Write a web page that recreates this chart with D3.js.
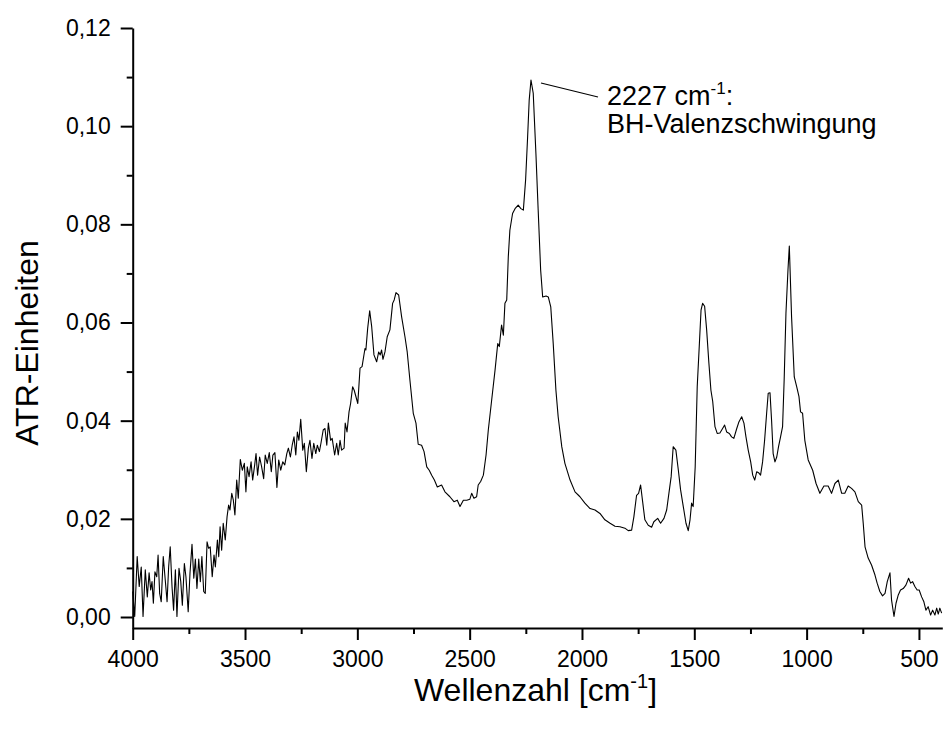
<!DOCTYPE html>
<html>
<head>
<meta charset="utf-8">
<script src="https://cdn.jsdelivr.net/npm/d3@7"></script>
<style>
  html, body { margin: 0; padding: 0; background: #fff; }
  svg { display: block; font-family: "Liberation Sans", Arial, sans-serif; }
</style>
</head>
<body>
<svg id="chart" width="943" height="731"></svg>
<script>
// ATR-IR spectrum: wavenumber (cm^-1) and absorbance in ATR units
const wavenumber = [4000,3991,3980,3971,3962,3954,3944,3935,3927,3920,
3914,3908,3901,3893,3887,3880,3873,3864,3855,3847,
3840,3833,3825,3818,3810,3803,3794,3786,3779,3770,
3763,3753,3745,3736,3728,3721,3714,3706,3699,3692,
3684,3677,3669,3662,3655,3646,3638,3632,3623,3617,
3611,3604,3597,3588,3580,3573,3567,3559,3552,3545,
3537,3530,3521,3512,3503,3496,3490,3482,3473,3466,
3457,3451,3444,3435,3426,3417,3410,3401,3392,3383,
3376,3367,3358,3350,3341,3332,3323,3314,3307,3298,
3290,3282,3274,3267,3260,3252,3243,3236,3227,3218,
3211,3202,3194,3185,3178,3169,3162,3152,3144,3136,
3129,3119,3112,3101,3092,3085,3077,3070,3059,3054,
3046,3037,3030,3021,3014,2998,2988,2979,2966,2962,
2954,2945,2936,2926,2914,2905,2898,2892,2886,2877,
2867,2855,2843,2836,2828,2816,2803,2788,2778,2766,
2751,2739,2729,2714,2703,2691,2680,2669,2657,2644,
2625,2610,2588,2570,2555,2543,2528,2513,2499,2491,
2481,2469,2462,2451,2439,2427,2417,2402,2387,2375,
2368,2358,2350,2343,2335,2328,2321,2309,2298,2284,
2272,2261,2251,2242,2235,2227,2217,2205,2195,2184,
2175,2160,2150,2139,2128,2116,2106,2090,2076,2053,
2031,2009,1987,1964,1942,1920,1898,1875,1853,1831,
1809,1794,1779,1769,1757,1748,1739,1730,1720,1705,
1690,1680,1663,1650,1635,1623,1611,1603,1594,1582,
1571,1561,1549,1537,1527,1519,1512,1505,1496,1487,
1478,1470,1463,1454,1445,1435,1426,1418,1408,1398,
1386,1374,1365,1356,1344,1334,1324,1311,1301,1289,
1279,1270,1260,1249,1240,1231,1222,1214,1205,1196,
1187,1178,1171,1163,1156,1149,1141,1133,1125,1116,
1107,1100,1092,1083,1077,1067,1055,1044,1034,1027,
1018,1008,993,973,958,941,923,904,889,874,
859,844,830,815,800,785,770,755,748,740,
726,711,696,686,674,662,651,641,629,622,
611,602,592,582,570,558,546,537,528,518,
508,499,488,478,469,459,448,439,429,421,
414,407,399];

const atrUnits = [0.0052,0.0001,0.0123,0.0062,0.0102,0.0001,0.0096,0.0041,0.0090,0.0055,
0.0072,0.0028,0.0092,0.0082,0.0126,0.0048,0.0031,0.0123,0.0075,0.0031,
0.0102,0.0143,0.0062,0.0014,0.0096,0.0001,0.0099,0.0072,0.0024,0.0109,
0.0082,0.0011,0.0089,0.0148,0.0079,0.0118,0.0058,0.0118,0.0072,0.0123,
0.0052,0.0048,0.0153,0.0140,0.0143,0.0082,0.0126,0.0102,0.0157,0.0123,
0.0184,0.0136,0.0191,0.0157,0.0204,0.0228,0.0218,0.0252,0.0238,0.0208,
0.0279,0.0242,0.0321,0.0299,0.0313,0.0255,0.0306,0.0286,0.0316,0.0279,
0.0310,0.0333,0.0289,0.0326,0.0306,0.0282,0.0330,0.0313,0.0335,0.0296,
0.0330,0.0335,0.0264,0.0320,0.0299,0.0316,0.0310,0.0333,0.0344,0.0326,
0.0350,0.0367,0.0330,0.0377,0.0360,0.0403,0.0340,0.0354,0.0296,0.0344,
0.0360,0.0323,0.0354,0.0333,0.0350,0.0337,0.0354,0.0381,0.0384,0.0350,
0.0395,0.0360,0.0364,0.0330,0.0354,0.0330,0.0360,0.0340,0.0344,0.0395,
0.0377,0.0418,0.0435,0.0469,0.0462,0.0435,0.0507,0.0510,0.0547,0.0544,
0.0588,0.0624,0.0591,0.0534,0.0520,0.0540,0.0534,0.0544,0.0525,0.0540,
0.0571,0.0585,0.0639,0.0646,0.0661,0.0656,0.0612,0.0571,0.0540,0.0483,
0.0415,0.0395,0.0352,0.0350,0.0337,0.0306,0.0299,0.0289,0.0279,0.0265,
0.0269,0.0255,0.0245,0.0235,0.0238,0.0225,0.0238,0.0238,0.0240,0.0252,
0.0242,0.0245,0.0269,0.0276,0.0289,0.0330,0.0381,0.0442,0.0503,0.0557,
0.0551,0.0595,0.0574,0.0639,0.0646,0.0734,0.0788,0.0822,0.0832,0.0839,
0.0832,0.0829,0.0890,0.0978,0.1053,0.1094,0.1067,0.0944,0.0829,0.0707,
0.0652,0.0654,0.0652,0.0632,0.0557,0.0462,0.0408,0.0347,0.0313,0.0279,
0.0255,0.0245,0.0232,0.0221,0.0218,0.0211,0.0198,0.0191,0.0185,0.0184,
0.0181,0.0176,0.0177,0.0204,0.0248,0.0252,0.0269,0.0235,0.0198,0.0187,
0.0183,0.0194,0.0201,0.0191,0.0201,0.0218,0.0259,0.0286,0.0347,0.0340,
0.0299,0.0259,0.0225,0.0191,0.0176,0.0198,0.0232,0.0225,0.0306,0.0469,
0.0551,0.0625,0.0639,0.0633,0.0585,0.0517,0.0462,0.0439,0.0388,0.0374,
0.0375,0.0384,0.0391,0.0377,0.0374,0.0367,0.0364,0.0384,0.0398,0.0408,
0.0395,0.0367,0.0340,0.0316,0.0289,0.0279,0.0296,0.0294,0.0289,0.0316,
0.0360,0.0415,0.0456,0.0457,0.0401,0.0333,0.0316,0.0326,0.0347,0.0367,
0.0388,0.0483,0.0619,0.0707,0.0756,0.0612,0.0489,0.0469,0.0449,0.0418,
0.0415,0.0360,0.0320,0.0299,0.0272,0.0252,0.0267,0.0267,0.0252,0.0272,
0.0279,0.0252,0.0252,0.0267,0.0262,0.0255,0.0235,0.0228,0.0191,0.0143,
0.0120,0.0106,0.0086,0.0069,0.0052,0.0043,0.0048,0.0072,0.0090,0.0035,
0.0001,0.0028,0.0045,0.0055,0.0058,0.0065,0.0079,0.0069,0.0072,0.0062,
0.0055,0.0055,0.0041,0.0031,0.0014,0.0021,0.0004,0.0014,0.0004,0.0018,
0.0006,0.0018,0.0008];

// Axis ticks
const xMajorTicks = [4000, 3500, 3000, 2500, 2000, 1500, 1000, 500];
const xMinorTicks = [3750, 3250, 2750, 2250, 1750, 1250, 750];
const yMajorTicks = [0, 0.02, 0.04, 0.06, 0.08, 0.10, 0.12];
const yMinorTicks = [0.01, 0.03, 0.05, 0.07, 0.09, 0.11];

// Annotated band
const bandWavenumber = 2227;
const bandLabel = "2227 cm";
const bandName = "BH-Valenzschwingung";

const svg = d3.select("#chart");
const plot = { left: 132.7, right: 942.3, top: 28, bottom: 628 };

const x = d3.scaleLinear().domain([4000, 396]).range([plot.left, plot.right]);
const y = d3.scaleLinear().domain([-0.00224, 0.12]).range([plot.bottom, plot.top]);

const fmt = d => d3.format(".2f")(d).replace(".", ",");
const tickFont = 23;

// Spectrum trace
const points = d3.zip(wavenumber, atrUnits);
svg.append("path")
  .datum(points)
  .attr("fill", "none")
  .attr("stroke", "#000")
  .attr("stroke-width", 1.1)
  .attr("stroke-linejoin", "round")
  .attr("d", d3.line().x(d => x(d[0])).y(d => y(d[1])));

// Axes
function styleAxis(g) {
  g.selectAll("path.domain").attr("stroke", "#000").attr("stroke-width", 2);
  g.selectAll(".tick line").attr("stroke", "#000").attr("stroke-width", 2);
  g.selectAll(".tick text").attr("fill", "#000")
    .style("font-size", tickFont + "px")
    .style("font-family", '"Liberation Sans", Arial, sans-serif');
}

const xAxis = svg.append("g").attr("transform", `translate(0,${plot.bottom})`)
  .call(d3.axisBottom(x).tickValues(xMajorTicks).tickSize(12).tickSizeOuter(0)
    .tickPadding(11).tickFormat(d3.format("d")));
styleAxis(xAxis);
const xMinor = svg.append("g").attr("transform", `translate(0,${plot.bottom})`)
  .call(d3.axisBottom(x).tickValues(xMinorTicks).tickSize(6).tickSizeOuter(0).tickFormat(""));
styleAxis(xMinor);
xMinor.select("path.domain").remove();

const yAxis = svg.append("g").attr("transform", `translate(${plot.left},0)`)
  .call(d3.axisLeft(y).tickValues(yMajorTicks).tickSize(12).tickSizeOuter(0)
    .tickPadding(10).tickFormat(fmt));
styleAxis(yAxis);
const yMinor = svg.append("g").attr("transform", `translate(${plot.left},0)`)
  .call(d3.axisLeft(y).tickValues(yMinorTicks).tickSize(6).tickSizeOuter(0).tickFormat(""));
styleAxis(yMinor);
yMinor.select("path.domain").remove();

// Axis titles
const xTitle = svg.append("text")
  .attr("x", (plot.left + plot.right) / 2 - 2)
  .attr("y", 701)
  .attr("text-anchor", "middle")
  .style("font-size", "32px");
xTitle.append("tspan").text("Wellenzahl [cm");
xTitle.append("tspan").attr("dy", -13).style("font-size", "20px").text("-1");
xTitle.append("tspan").attr("dy", 13).text("]");

svg.append("text")
  .attr("transform", `translate(38,${(plot.top + plot.bottom) / 2 + 15}) rotate(-90)`)
  .attr("text-anchor", "middle")
  .style("font-size", "32px")
  .text("ATR-Einheiten");

// Annotation for the BH stretching band
const peakIdx = wavenumber.indexOf(bandWavenumber);
const px = x(bandWavenumber), py = y(atrUnits[peakIdx]);
svg.append("line")
  .attr("x1", px + 10).attr("y1", py + 3)
  .attr("x2", px + 67).attr("y2", py + 17)
  .attr("stroke", "#000").attr("stroke-width", 1.2);

const ann = svg.append("text")
  .attr("x", px + 76).attr("y", py + 25)
  .style("font-size", "27px");
ann.append("tspan").text(bandLabel);
ann.append("tspan").attr("dy", -11).style("font-size", "17px").text("-1");
ann.append("tspan").attr("dy", 11).text(":");

svg.append("text")
  .attr("x", px + 76).attr("y", py + 53)
  .style("font-size", "27px")
  .text(bandName);
</script>
</body>
</html>
